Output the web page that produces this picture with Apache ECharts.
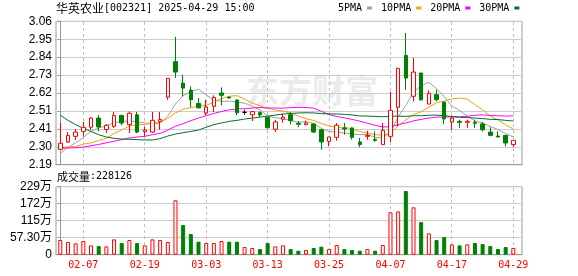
<!DOCTYPE html>
<html><head><meta charset="utf-8">
<script src="https://cdn.jsdelivr.net/npm/echarts@6/dist/echarts.min.js"></script>
<style>html,body{margin:0;padding:0;background:#fff}#c{width:578px;height:276px}</style>
</head><body><div id="c"></div>
<script>
const stockName = '华英农业';
const stockCode = '002321';
const timeText = '2025-04-29 15:00';

const dates = ['01-27','02-05','02-06','02-07','02-10','02-11','02-12','02-13','02-14','02-17',
'02-18','02-19','02-20','02-21','02-24','02-25','02-26','02-27','02-28','03-03',
'03-04','03-05','03-06','03-07','03-10','03-11','03-12','03-13','03-14','03-17',
'03-18','03-19','03-20','03-21','03-24','03-25','03-26','03-27','03-28','03-31',
'04-01','04-02','04-03','04-07','04-08','04-09','04-10','04-11','04-14','04-15',
'04-16','04-17','04-18','04-21','04-22','04-23','04-24','04-25','04-28','04-29'];

const openPrice = [2.283,2.328,2.362,2.392,2.417,2.473,2.404,2.423,2.489,2.433,
2.493,2.390,2.388,2.453,2.600,2.815,2.685,2.643,2.562,2.503,
2.544,2.625,2.600,2.582,2.508,2.493,2.506,2.478,2.405,2.466,
2.493,2.441,2.433,2.437,2.402,2.332,2.356,2.413,2.413,2.328,
2.362,2.344,2.312,2.362,2.538,2.853,2.605,2.746,2.558,2.615,
2.570,2.449,2.453,2.447,2.447,2.437,2.388,2.364,2.368,2.312];
const closePrice = [2.320,2.368,2.388,2.417,2.473,2.419,2.429,2.489,2.443,2.502,
2.388,2.400,2.459,2.465,2.714,2.752,2.655,2.584,2.535,2.540,
2.598,2.611,2.595,2.505,2.508,2.512,2.492,2.414,2.449,2.478,
2.457,2.435,2.443,2.388,2.328,2.358,2.429,2.407,2.356,2.312,
2.368,2.338,2.398,2.520,2.775,2.716,2.752,2.584,2.623,2.584,
2.468,2.473,2.447,2.453,2.441,2.402,2.368,2.358,2.322,2.338];
const lowPrice = [2.283,2.322,2.340,2.362,2.402,2.392,2.382,2.413,2.429,2.382,
2.382,2.362,2.382,2.402,2.584,2.716,2.605,2.538,2.532,2.489,
2.510,2.550,2.590,2.491,2.493,2.455,2.479,2.410,2.388,2.445,
2.433,2.417,2.429,2.382,2.281,2.301,2.336,2.372,2.342,2.297,
2.342,2.328,2.310,2.328,2.423,2.645,2.574,2.578,2.556,2.574,
2.437,2.402,2.413,2.413,2.413,2.392,2.362,2.358,2.301,2.297];
const highPrice = [2.443,2.388,2.406,2.449,2.479,2.491,2.437,2.510,2.493,2.514,
2.510,2.420,2.510,2.510,2.716,2.965,2.736,2.665,2.594,2.584,
2.611,2.659,2.603,2.588,2.524,2.514,2.514,2.480,2.462,2.500,
2.510,2.455,2.457,2.443,2.404,2.360,2.443,2.443,2.415,2.352,
2.396,2.392,2.443,2.631,2.777,2.989,2.837,2.748,2.641,2.645,
2.572,2.489,2.463,2.463,2.463,2.449,2.417,2.392,2.368,2.340];
const volume = [495000,428000,382000,461000,315000,292000,281000,517000,393000,495000,
393000,315000,517000,495000,428000,1834000,1000000,697000,438000,393000,
393000,461000,438000,438000,258000,225000,191000,393000,281000,315000,
191000,135000,157000,225000,270000,191000,326000,191000,157000,135000,
191000,135000,326000,1430000,1460000,2147000,1596000,1100000,720000,495000,
596000,349000,315000,349000,393000,360000,292000,191000,258000,228126];

const ma5 = [2.259,2.295,2.323,2.355,2.393,2.413,2.425,2.445,2.451,2.456,
2.450,2.444,2.438,2.443,2.485,2.558,2.609,2.634,2.648,2.613,
2.582,2.574,2.576,2.570,2.563,2.546,2.522,2.486,2.475,2.469,
2.458,2.447,2.452,2.440,2.410,2.390,2.389,2.382,2.376,2.372,
2.374,2.356,2.354,2.387,2.480,2.549,2.632,2.669,2.690,2.652,
2.602,2.546,2.519,2.485,2.456,2.443,2.422,2.404,2.378,2.358];
const ma10 = [2.295,2.298,2.301,2.315,2.322,2.337,2.350,2.380,2.400,2.425,
2.432,2.435,2.442,2.447,2.471,2.504,2.527,2.536,2.545,2.549,
2.570,2.591,2.605,2.609,2.588,2.564,2.548,2.531,2.522,2.516,
2.502,2.485,2.469,2.458,2.440,2.424,2.418,2.417,2.408,2.391,
2.382,2.373,2.368,2.381,2.426,2.462,2.494,2.512,2.539,2.566,
2.576,2.589,2.594,2.588,2.554,2.523,2.484,2.462,2.432,2.407];
const ma20 = [2.291,2.291,2.293,2.297,2.305,2.313,2.323,2.332,2.342,2.352,
2.358,2.362,2.372,2.380,2.400,2.423,2.439,2.457,2.473,2.487,
2.501,2.513,2.523,2.528,2.530,2.534,2.537,2.534,2.534,2.533,
2.536,2.538,2.537,2.533,2.514,2.494,2.483,2.474,2.465,2.454,
2.442,2.429,2.419,2.420,2.433,2.443,2.456,2.465,2.473,2.479,
2.479,2.481,2.481,2.484,2.490,2.492,2.489,2.487,2.485,2.486];
const ma30 = [2.491,2.459,2.433,2.411,2.392,2.372,2.358,2.350,2.346,2.344,
2.342,2.340,2.340,2.348,2.364,2.376,2.384,2.392,2.400,2.417,
2.433,2.443,2.453,2.459,2.467,2.473,2.479,2.485,2.491,2.497,
2.501,2.504,2.505,2.504,2.500,2.498,2.498,2.495,2.492,2.486,
2.485,2.483,2.481,2.483,2.485,2.483,2.487,2.487,2.490,2.491,
2.487,2.482,2.477,2.476,2.473,2.470,2.465,2.464,2.459,2.455];

const maNames = ['5PMA','10PMA','20PMA','30PMA'];
const priceTicks = ['2.19','2.30','2.41','2.51','2.62','2.73','2.84','2.95','3.06'];
const volumeTicks = ['0','57.30万','115万','172万','229万'];
const volumeMax = 2292000;
const axisDates = ['02-07','02-19','03-03','03-13','03-25','04-07','04-17','04-29'];

const RED = '#ff0000', GREEN = '#008000';
const maColors = ['#a0a0a0','#f2a20c','#ff00ff','#00702e'];
const pMin = parseFloat(priceTicks[0]), pMax = parseFloat(priceTicks[priceTicks.length-1]);
const pInt = (pMax - pMin) / (priceTicks.length - 1);
const vInt = volumeMax / (volumeTicks.length - 1);
const xMin = -0.56, xMax = 60.13;
const tickIdx = axisDates.map(d => dates.indexOf(d));
const idx = dates.map((d, i) => i);

const chart = echarts.init(document.getElementById('c'), null, {renderer: 'canvas'});

// dashed vertical date guides, built from 1px-wide solid rects on whole pixels
function guideSeries(ai, y0, y1) {
  return {
    type: 'custom', xAxisIndex: ai, yAxisIndex: ai, silent: true, z: 1,
    data: tickIdx.map(i => [i, (y0 + y1) / 2]),
    encode: {x: 0, y: 1},
    renderItem: (params, api) => {
      const top = api.coord([api.value(0), y1]);
      const bot = api.coord([api.value(0), y0]);
      const x = Math.floor(top[0]);
      const children = [];
      for (let y = Math.round(top[1]) + 1; y < bot[1] - 0.5; y += 6) {
        children.push({type: 'rect', shape: {x: x, y: y, width: 1, height: Math.min(3, Math.round(bot[1]) - y)},
                       style: {fill: '#c0c0c0', stroke: null}});
      }
      return {type: 'group', children};
    }
  };
}
const maSeries = [ma5, ma10, ma20, ma30].map((arr, k) => ({
  name: maNames[k], type: 'line', xAxisIndex: 0, yAxisIndex: 0,
  data: arr.map((v, i) => [i, v]), showSymbol: false, symbol: 'none',
  lineStyle: {width: 1, color: maColors[k]}, itemStyle: {color: maColors[k]},
  z: 3, silent: true
}));
const volData = volume.map((v, i) => {
  const up = i === 0 ? closePrice[i] >= openPrice[i] : closePrice[i] >= closePrice[i-1];
  return {value: [i, v], itemStyle: up ? {color: '#ffffff', borderColor: RED, borderWidth: 1}
                                       : {color: GREEN, borderColor: GREEN, borderWidth: 1}};
});

chart.setOption({
  animation: false,
  backgroundColor: '#ffffff',
  legend: {
    data: maNames, left: 338, top: 3, align: 'right', icon: 'rect',
    itemWidth: 5, itemHeight: 3, itemGap: 9, padding: 0, selectedMode: false,
    textStyle: {fontFamily: 'DejaVu Sans Mono', fontSize: 10, color: '#000'}
  },
  graphic: [
    {type: 'text', left: 56, top: 2, z: 10, style: {
      text: '{a|' + stockName + '}{b|[' + stockCode + '] ' + timeText + '}',
      rich: {a: {fontFamily: 'Noto Sans CJK SC', fontSize: 12, fill: '#000'},
             b: {fontFamily: 'DejaVu Sans Mono', fontSize: 10, fill: '#000'}}}},
    {type: 'text', left: 57, top: 171, z: 10, style: {
      text: '{a|成交量}{b|:' + volume[volume.length-1] + '}',
      rich: {a: {fontFamily: 'Noto Sans CJK SC', fontSize: 11, fill: '#000'},
             b: {fontFamily: 'DejaVu Sans Mono', fontSize: 10, fill: '#000'}}}},
    {type: 'text', x: 246, y: 90, z: 0, silent: true, style: {
      text: '东方财富', fontFamily: 'Noto Sans CJK SC', fontWeight: 'bold', fontSize: 33,
      fill: '#ebebee', textVerticalAlign: 'middle'}}
  ],
  grid: [
    {left: 56, right: 56, top: 21.3, height: 143.4, show: true, borderColor: '#999', borderWidth: 1, backgroundColor: 'transparent'},
    {left: 56, right: 56, top: 186.7, height: 68, show: true, borderColor: '#999', borderWidth: 1, backgroundColor: 'transparent'}
  ],
  xAxis: [
    {type: 'value', gridIndex: 0, min: xMin, max: xMax, axisLabel: {show: false}, axisTick: {show: false},
     splitLine: {show: false}, axisLine: {lineStyle: {color: '#999'}}},
    {type: 'value', gridIndex: 1, min: xMin, max: xMax,
     axisLabel: {customValues: tickIdx, formatter: v => dates[Math.round(v)], color: RED,
                 fontFamily: 'DejaVu Sans Mono', fontSize: 10, margin: 6},
     axisTick: {show: false}, splitLine: {show: false}, axisLine: {lineStyle: {color: '#999'}}}
  ],
  yAxis: [
    {type: 'value', gridIndex: 0, min: pMin, max: pMax, interval: pInt,
     axisLine: {show: true, lineStyle: {color: '#999'}},
     axisTick: {show: true, length: 3, lineStyle: {color: '#999'}},
     axisLabel: {formatter: v => priceTicks[Math.round((v - pMin) / pInt)], color: '#000',
                 fontFamily: 'Liberation Sans', fontSize: 12, margin: 4},
     splitLine: {lineStyle: {color: '#cccccc'}}},
    {type: 'value', gridIndex: 1, min: 0, max: volumeMax, interval: vInt,
     axisLine: {show: true, lineStyle: {color: '#999'}},
     axisTick: {show: true, length: 3, lineStyle: {color: '#999'}},
     axisLabel: {formatter: v => volumeTicks[Math.round(v / vInt)], color: '#000',
                 fontFamily: 'Liberation Sans, Noto Sans CJK SC', fontSize: 12, margin: 4},
     splitLine: {lineStyle: {color: '#cccccc'}}}
  ],
  series: [
    guideSeries(0, pMin, pMax),
    guideSeries(1, 0, volumeMax),
    ...maSeries,
    {name: 'K', type: 'candlestick', xAxisIndex: 0, yAxisIndex: 0, barWidth: 4, z: 4, silent: true,
     data: idx.map(i => [i, openPrice[i], closePrice[i], lowPrice[i], highPrice[i]]),
     encode: {x: 0, y: [1, 2, 3, 4]},
     itemStyle: {color: '#ffffff', color0: GREEN, borderColor: RED, borderColor0: GREEN,
                 borderColorDoji: '#000000', borderWidth: 1}},
    {name: 'VOL', type: 'bar', xAxisIndex: 1, yAxisIndex: 1, barWidth: 4, silent: true, z: 4,
     data: volData}
  ]
});
</script></body></html>
